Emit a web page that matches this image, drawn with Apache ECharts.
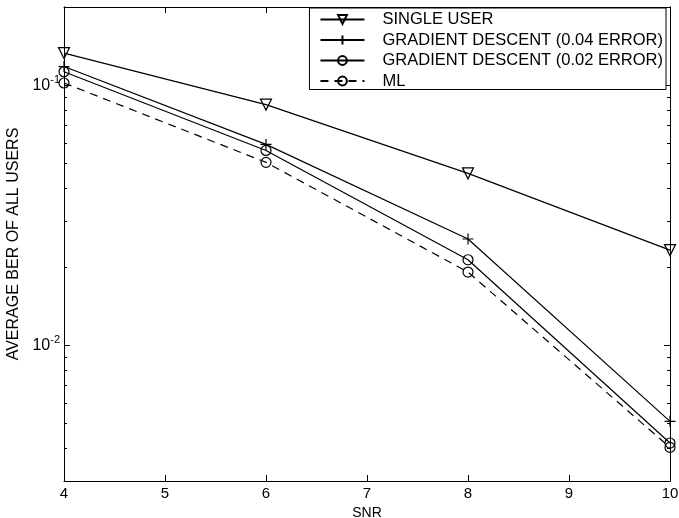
<!DOCTYPE html>
<html><head><meta charset="utf-8">
<script src="https://cdn.jsdelivr.net/npm/echarts@6/dist/echarts.min.js"></script>
<style>html,body{margin:0;padding:0;background:#fff}#c{width:679px;height:518px}</style>
</head><body><div id="c"></div>
<script>
const snr = [4, 6, 8, 10];
const xTicks = [4, 5, 6, 7, 8, 9, 10];
const singleUser = [0.133, 0.0842, 0.0458, 0.0232];
const gd04 = [0.118, 0.0592, 0.0256, 0.00509];
const gd02 = [0.1127, 0.0561, 0.0213, 0.00420];
const ml = [0.102, 0.0505, 0.0191, 0.00404];
const yMajor = [0.01, 0.1];
const yMinor = [0.003, 0.004, 0.005, 0.006, 0.007, 0.008, 0.009, 0.02, 0.03, 0.04, 0.05, 0.06, 0.07, 0.08, 0.09, 0.2];
const names = ['SINGLE USER', 'GRADIENT DESCENT (0.04 ERROR)', 'GRADIENT DESCENT (0.02 ERROR)', 'ML'];
const yMin = 0.003, yMax = 0.2;

const FONT = 'Liberation Sans, Arial, sans-serif';
const chart = echarts.init(document.getElementById('c'), null, {renderer: 'canvas'});
const pairs = arr => snr.map((x, i) => [x, arr[i]]);
const plusPath = 'path://M0,5L10,5M5,0L5,10';

function yAxisBase(extra) {
  return Object.assign({
    type: 'log', min: yMin, max: yMax, logBase: 10,
    axisLine: {show: true, lineStyle: {color: '#000', width: 1}},
    splitLine: {show: false},
    axisLabel: {show: false},
    offset: 0
  }, extra);
}
function xAxisBase(extra) {
  return Object.assign({
    type: 'value', min: 4, max: 10, interval: 1,
    axisLine: {show: true, onZero: false, lineStyle: {color: '#000', width: 1}},
    splitLine: {show: false},
    axisTick: {show: true, inside: true, length: 6, lineStyle: {color: '#000'}, customValues: xTicks},
    axisLabel: {show: false},
    offset: 0
  }, extra);
}

const option = {
  backgroundColor: '#fff',
  animation: false,
  grid: {left: 64, right: 9, top: 7, bottom: 37, containLabel: false, outerBoundsMode: 'none'},
  xAxis: [
    xAxisBase({
      position: 'bottom',
      name: 'SNR', nameLocation: 'middle', nameGap: 19,
      nameTextStyle: {color: '#000', fontFamily: FONT, fontSize: 14},
      axisLabel: {show: true, color: '#000', fontFamily: FONT, fontSize: 15, margin: 5, customValues: xTicks}
    }),
    xAxisBase({position: 'top'})
  ],
  yAxis: [
    yAxisBase({
      position: 'left',
      name: 'AVERAGE BER OF ALL USERS', nameLocation: 'middle', nameGap: 40,
      nameTextStyle: {color: '#000', fontFamily: FONT, fontSize: 16},
      axisTick: {show: true, inside: true, length: 6, lineStyle: {color: '#000'}, customValues: yMajor},
      axisLabel: {
        show: true, margin: 4, customValues: yMajor,
        formatter: v => '{b|10}{s|' + Math.round(Math.log10(v)) + '}',
        rich: {
          b: {fontFamily: FONT, fontSize: 16, color: '#000'},
          s: {fontFamily: FONT, fontSize: 11, color: '#000', padding: [0, 0, 10, 0]}
        }
      }
    }),
    yAxisBase({position: 'left', axisTick: {show: true, inside: true, length: 3, lineStyle: {color: '#000'}, customValues: yMinor}}),
    yAxisBase({position: 'right', axisTick: {show: true, inside: true, length: 6, lineStyle: {color: '#000'}, customValues: yMajor}}),
    yAxisBase({position: 'right', axisTick: {show: true, inside: true, length: 3, lineStyle: {color: '#000'}, customValues: yMinor}})
  ],
  legend: {
    right: 13, top: 8,
    orient: 'vertical',
    backgroundColor: '#fff',
    borderColor: '#000', borderWidth: 1, borderRadius: 0,
    padding: [3, 3, 0, 10],
    itemGap: 3.5, itemWidth: 44, itemHeight: 11,
    textStyle: {color: '#000', fontFamily: FONT, fontSize: 16.5, lineHeight: 16, padding: [0, 0, 0, 13]},
    data: names
  },
  series: [
    {name: names[0], type: 'line', data: pairs(singleUser), symbol: 'triangle', symbolRotate: 180, symbolSize: 11,
     lineStyle: {color: '#000', width: 1.2}, itemStyle: {color: 'rgba(0,0,0,0)', borderColor: '#000', borderWidth: 1.2}},
    {name: names[1], type: 'line', data: pairs(gd04), symbol: plusPath, symbolSize: 11,
     lineStyle: {color: '#000', width: 1.2}, itemStyle: {color: 'rgba(0,0,0,0)', borderColor: '#000', borderWidth: 1.2}},
    {name: names[2], type: 'line', data: pairs(gd02), symbol: 'circle', symbolSize: 10,
     lineStyle: {color: '#000', width: 1.2}, itemStyle: {color: 'rgba(0,0,0,0)', borderColor: '#000', borderWidth: 1.2}},
    {name: names[3], type: 'line', data: pairs(ml), symbol: 'circle', symbolSize: 10,
     lineStyle: {color: '#000', width: 1.2, type: [8, 6]}, itemStyle: {color: 'rgba(0,0,0,0)', borderColor: '#000', borderWidth: 1.2}}
  ]
};
chart.setOption(option);
</script>
</body></html>
